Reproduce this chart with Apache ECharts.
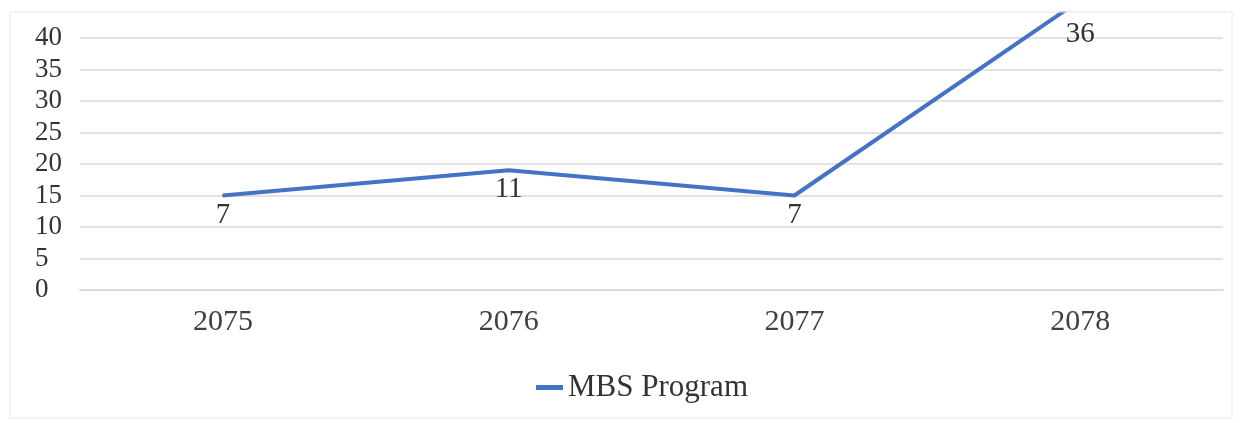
<!DOCTYPE html>
<html>
<head>
<meta charset="utf-8">
<script src="https://cdn.jsdelivr.net/npm/echarts@6/dist/echarts.min.js"></script>
<style>
  html, body { margin: 0; padding: 0; background: #fff; }
  #chart { width: 1245px; height: 423px; }
</style>
</head>
<body>
<div id="chart"></div>
<script>
// categories and values
const years = ['2075', '2076', '2077', '2078'];
// where the line sits against the axis in the picture
const plotted = [15, 19, 15, 46];
// numbers printed beside the points
const shown = [7, 11, 7, 36];
const seriesName = 'MBS Program';

const chart = echarts.init(document.getElementById('chart'));

const font = '"Liberation Serif", "DejaVu Serif", serif';
const blue = '#4472c4';

const option = {
  animation: false,
  backgroundColor: '#fff',
  graphic: [
    {
      // hide the part of the line that leaves the chart box
      type: 'rect',
      z: 100,
      shape: { x: 0, y: 0, width: 1245, height: 11.5 },
      style: { fill: '#fff' },
      silent: true
    },
    {
      type: 'rect',
      z: 101,
      shape: { x: 10, y: 12, width: 1222, height: 406 },
      style: { fill: 'none', stroke: '#e6e6e6', lineWidth: 1 },
      silent: true
    }
  ],
  grid: {
    left: 80,
    right: 22,
    top: 38,
    bottom: 133
  },
  legend: {
    top: 367,
    left: 531,
    itemWidth: 27,
    itemHeight: 5,
    textStyle: { fontFamily: font, fontSize: 31, color: '#333' },
    data: [{ name: seriesName, icon: 'rect', itemStyle: { color: blue } }]
  },
  xAxis: {
    type: 'category',
    data: years,
    axisLine: { lineStyle: { color: '#dcdcdc', width: 2 } },
    axisTick: { show: false },
    axisLabel: {
      fontFamily: font,
      fontSize: 30,
      color: '#404040',
      margin: 17
    }
  },
  yAxis: {
    type: 'value',
    min: 0,
    max: 40,
    interval: 5,
    axisLine: { show: false },
    axisTick: { show: false },
    axisLabel: {
      fontFamily: font,
      fontSize: 27,
      color: '#333',
      align: 'left',
      margin: 45
    },
    splitLine: { lineStyle: { color: '#e3e3e3', width: 2 } }
  },
  series: [{
    name: seriesName,
    type: 'line',
    data: plotted.map((v, i) => {
      const item = { value: v };
      if (i === plotted.length - 1) {
        item.label = { distance: 19 };
      }
      return item;
    }),
    clip: false,
    symbol: 'circle',
    symbolSize: 2,
    showSymbol: true,
    lineStyle: { color: blue, width: 4 },
    itemStyle: { color: blue },
    label: {
      show: true,
      position: 'bottom',
      distance: 4,
      fontFamily: font,
      fontSize: 29,
      color: '#333',
      formatter: p => String(shown[p.dataIndex])
    }
  }]
};

chart.setOption(option);
</script>
</body>
</html>
